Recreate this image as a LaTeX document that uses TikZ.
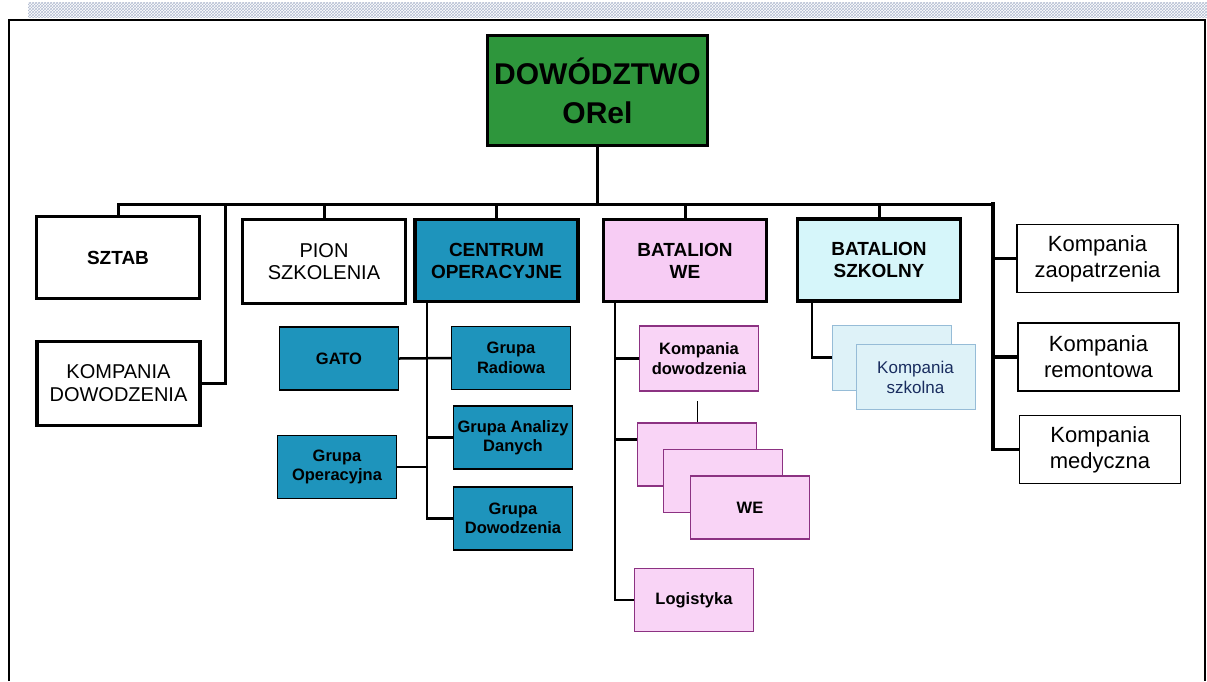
\documentclass[tikz,border=0pt]{standalone}
\usepackage{fontspec}
\setmainfont{Liberation Sans}
\usetikzlibrary{patterns}

\definecolor{dowgreen}{RGB}{46,150,60}
\definecolor{coblue}{RGB}{30,148,188}
\definecolor{wepink}{RGB}{247,204,244}
\definecolor{wesubpink}{RGB}{249,212,246}
\definecolor{weedge}{RGB}{140,50,130}
\definecolor{szkcyan}{RGB}{214,246,250}
\definecolor{szksub}{RGB}{222,242,248}
\definecolor{szkedge}{RGB}{150,188,215}
\definecolor{szktext}{RGB}{25,45,95}
\definecolor{hatch}{RGB}{180,190,210}

\tikzset{
  unit/.style={draw, line width=3.5pt, align=center, inner sep=0pt,
    minimum width=163pt, minimum height=82pt},
  side/.style={draw, line width=1.8pt, align=center, inner sep=0pt,
    minimum width=161pt, minimum height=68pt, font=\fontsize{22}{26}\selectfont},
  sub/.style={draw, line width=1.4pt, align=center, inner sep=0pt,
    minimum width=119pt, minimum height=63pt, font=\bfseries\fontsize{16.5}{19.5}\selectfont},
  link/.style={line width=3pt, line cap=rect},
  sublink/.style={line width=2.5pt},
}

\begin{document}
\begin{tikzpicture}[x=1pt,y=-1pt]
  \useasboundingbox (0,0) rectangle (1207,681);

  % frame and hatched strip on top
  \fill[pattern=crosshatch, pattern color=hatch] (28,2) rectangle (1207,17);
  \draw[line width=2.5pt] (9,681) -- (9,20) -- (1205,20) -- (1205,681);

  % head
  \node[unit, fill=dowgreen, minimum width=220pt, minimum height=110pt,
    font=\bfseries\fontsize{30}{39}\selectfont] (dow) at (597.5,90.5) {DOWÓDZTWO\\ORel};

  % first level
  \node[unit, font=\bfseries\fontsize{19}{22}\selectfont] (sztab) at (118,257.5) {SZTAB};
  \node[unit, minimum height=84pt, font=\fontsize{20}{23}\selectfont] (kompdow) at (118.5,383.5) {KOMPANIA\\DOWODZENIA};
  \node[unit, minimum height=84pt, font=\fontsize{20}{22}\selectfont] (pion) at (324,261.5) {PION\\SZKOLENIA};
  \node[unit, fill=coblue, font=\bfseries\fontsize{19}{22}\selectfont] (centrum) at (496.5,260.5) {CENTRUM\\OPERACYJNE};
  \node[unit, fill=wepink, font=\bfseries\fontsize{19}{22}\selectfont] (batwe) at (685,260.5) {BATALION\\WE};
  \node[unit, fill=szkcyan, font=\bfseries\fontsize{19}{22}\selectfont] (batszk) at (879,260) {BATALION\\SZKOLNY};

  \node[side] (zaop) at (1097.5,258.5) {Kompania\\zaopatrzenia};
  \node[side] (remont) at (1098.5,357) {Kompania\\remontowa};
  \node[side] (medycz) at (1100,449.5) {Kompania\\medyczna};

  % centrum operacyjne
  \node[sub, fill=coblue] (gato) at (339,358.5) {GATO};
  \node[sub, fill=coblue] (radio) at (511,358) {Grupa\\Radiowa};
  \node[sub, fill=coblue] (analizy) at (513,437.5) {Grupa Analizy\\Danych};
  \node[sub, fill=coblue] (operac) at (337,467) {Grupa\\Operacyjna};
  \node[sub, fill=coblue] (dowgr) at (513,518.5) {Grupa\\Dowodzenia};

  % batalion WE
  \node[sub, draw=weedge, fill=wesubpink, minimum height=65pt] (kdow) at (699,358.5) {Kompania\\dowodzenia};
  \node[sub, draw=weedge, fill=wesubpink] (we1) at (697,454.5) {};
  \node[sub, draw=weedge, fill=wesubpink] (we2) at (723,481) {};
  \node[sub, draw=weedge, fill=wesubpink] (we3) at (750,507.5) {WE};
  \node[sub, draw=weedge, fill=wesubpink] (logist) at (694,600) {Logistyka};

  % batalion szkolny
  \node[sub, line width=1pt, draw=szkedge, fill=szksub, minimum height=65pt] (szk1) at (891.5,357.5) {};
  \node[sub, line width=1pt, draw=szkedge, fill=szksub, minimum height=65pt,
    font=\fontsize{17}{20}\selectfont, text=szktext] (szk2) at (915.5,377) {Kompania\\szkolna};

  % bus
  \coordinate (busL) at (118,204);
  \coordinate (busR) at (993,204);
  \coordinate (kdtop) at (225,204);
  \draw[link] (dow.south) -- (dow.south |- busL);
  \draw[link] (busL) -- (busR);
  \foreach \n in {sztab,pion,centrum,batwe,batszk}
    \draw[link] (\n.north) -- (\n.north |- busL);
  \draw[link] (kompdow.east) -| (kdtop);

  % right column
  \draw[link, line width=3.5pt] (busR) |- (medycz.west);
  \draw[link, line width=3.5pt] (zaop.west) -- (zaop.west -| busR);
  \draw[link, line width=3.5pt] (remont.west) -- (remont.west -| busR);

  % lower spines
  \coordinate (cotop) at ([xshift=-69.5pt]centrum.south);
  \coordinate (wetop) at ([xshift=-70pt]batwe.south);
  \coordinate (sztop) at ([xshift=-67pt]batszk.south);

  \draw[sublink] (cotop) |- (dowgr.west);
  \draw[sublink] (gato.east) -- (radio.west);
  \draw[sublink] (analizy.west) -- (analizy.west -| cotop);
  \draw[sublink] (operac.east) -- (operac.east -| cotop);

  \draw[sublink] (wetop) |- (logist.west);
  \draw[sublink] (kdow.west) -- (kdow.west -| wetop);
  \draw[sublink] ([yshift=15pt]we1.west) -- ([yshift=15pt]we1.west -| wetop);
  \draw[line width=0.8pt] (we1.north) -- ++(0,-21);

  \draw[sublink] (sztop) |- (szk1.west);
\end{tikzpicture}
\end{document}
